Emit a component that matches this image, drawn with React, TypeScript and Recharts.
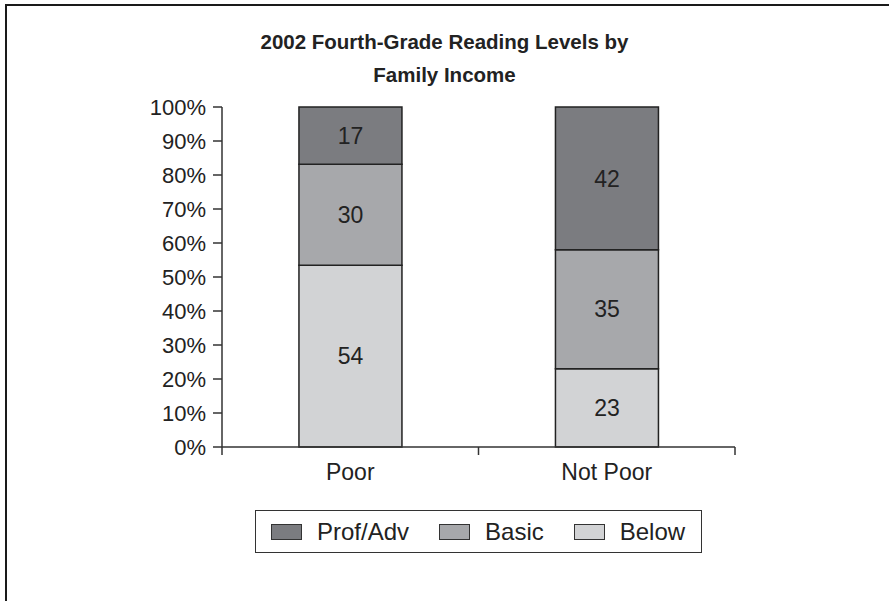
import React from 'react';
import { BarChart, Bar, XAxis, YAxis, Legend, LabelList } from 'recharts';

const categories = ['Poor', 'Not Poor'];
const below = [54, 23];
const basic = [30, 35];
const profAdv = [17, 42];
const yTicks = [0, 10, 20, 30, 40, 50, 60, 70, 80, 90, 100];

const series = [
  { key: 'below', name: 'Below', fill: '#d2d3d5' },
  { key: 'basic', name: 'Basic', fill: '#a7a8ab' },
  { key: 'profAdv', name: 'Prof/Adv', fill: '#7b7c80' },
];

const data = categories.map((name, i) => ({
  name,
  below: below[i],
  basic: basic[i],
  profAdv: profAdv[i],
}));

const font = '"Liberation Sans", Arial, sans-serif';
const ink = '#222';
const X_TICK_MARGIN = 16;

// category label plus tick marks on the band edges
const CategoryTick = (props: any) => {
  const { x, y, payload, index, visibleTicksCount } = props;
  const half = payload && payload.offset ? payload.offset : 0;
  const axisY = y - X_TICK_MARGIN;
  const edges = [x - half];
  if (index === visibleTicksCount - 1) edges.push(x + half);
  return (
    <g>
      {half > 0 &&
        edges.map((ex, i) => (
          <line key={i} x1={ex} x2={ex} y1={axisY} y2={axisY + 8} stroke="#333" strokeWidth={1.5} />
        ))}
      <text x={x} y={y} dy="0.72em" textAnchor="middle" fontSize={23} fill={ink} fontFamily={font}>
        {payload.value}
      </text>
    </g>
  );
};

const LegendBox = () => (
  <div
    style={{
      boxSizing: 'border-box',
      width: 447,
      height: 43,
      border: '1.5px solid #333',
      display: 'flex',
      alignItems: 'center',
      paddingLeft: 15,
      background: '#fff',
      fontSize: 24,
      color: ink,
      fontFamily: font,
    }}
  >
    {[...series].reverse().map((s) => (
      <div key={s.key} style={{ display: 'flex', alignItems: 'center', marginRight: 30 }}>
        <span
          style={{
            display: 'inline-block',
            boxSizing: 'border-box',
            width: 31,
            height: 16,
            background: s.fill,
            border: '1.5px solid #333',
            marginRight: 15,
          }}
        />
        <span>{s.name}</span>
      </div>
    ))}
  </div>
);

export default function App() {
  return (
    <div style={{ position: 'absolute', left: 0, top: 0, width: 889, height: 601, background: '#fff' }}>
      {/* scanned frame: only top and left edges show */}
      <div
        style={{
          position: 'absolute',
          left: 5,
          top: 4,
          width: 884,
          height: 597,
          borderTop: '2px solid #1a1a1a',
          borderLeft: '2px solid #1a1a1a',
        }}
      />
      <div
        style={{
          position: 'absolute',
          left: 0,
          top: 25,
          width: 889,
          textAlign: 'center',
          fontFamily: font,
          fontWeight: 'bold',
          fontSize: 20.5,
          lineHeight: '33px',
          color: ink,
        }}
      >
        2002 Fourth-Grade Reading Levels by
        <br />
        Family Income
      </div>
      <div style={{ position: 'absolute', left: 0, top: 0 }}>
        <BarChart
          width={889}
          height={601}
          data={data}
          stackOffset="expand"
          barCategoryGap="30%"
          margin={{ top: 107, right: 154, bottom: 114, left: 142 }}
          style={{ fontFamily: font }}
        >
          <XAxis
            dataKey="name"
            height={40}
            axisLine={{ stroke: '#333', strokeWidth: 1.5 }}
            tickLine={false}
            tickSize={0}
            tickMargin={X_TICK_MARGIN}
            interval={0}
            tick={<CategoryTick />}
          />
          <YAxis
            type="number"
            domain={[0, 1]}
            ticks={yTicks.map((t) => t / 100)}
            tickFormatter={(v: number) => `${Math.round(v * 100)}%`}
            width={80}
            axisLine={{ stroke: '#333', strokeWidth: 1.5 }}
            tickLine={{ stroke: '#333', strokeWidth: 1.5 }}
            tickSize={9}
            tickMargin={7}
            tick={{ fontSize: 22, fill: ink }}
          />
          <Legend
            layout="horizontal"
            verticalAlign="middle"
            align="center"
            content={<LegendBox />}
            wrapperStyle={{ position: 'absolute', left: 255, top: 510, width: 447, height: 43 }}
          />
          {series.map((s) => (
            <Bar
              key={s.key}
              dataKey={s.key}
              name={s.name}
              stackId="a"
              fill={s.fill}
              stroke="#222"
              strokeWidth={1.5}
              isAnimationActive={false}
            >
              <LabelList
                dataKey={s.key}
                position="center"
                fontSize={23}
                fill={ink}
                fontFamily={font}
              />
            </Bar>
          ))}
        </BarChart>
      </div>
    </div>
  );
}
